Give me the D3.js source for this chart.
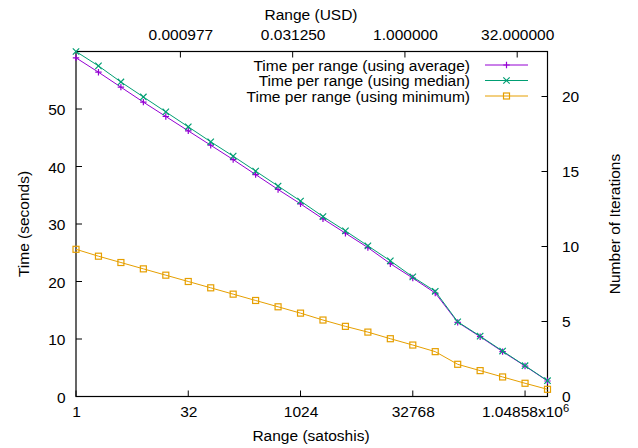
<!DOCTYPE html>
<html>
<head>
<meta charset="utf-8">
<script src="https://cdn.jsdelivr.net/npm/d3@7"></script>
<style>
  html, body { margin: 0; padding: 0; background: #fff; }
  svg text { font-family: "Liberation Sans", Arial, Helvetica, sans-serif; fill: #000; }
</style>
</head>
<body>
<svg id="chart" width="638" height="448"></svg>
<script>
// ---- data ----
const satoshis = [1, 2, 4, 8, 16, 32, 64, 128, 256, 512, 1024, 2048, 4096, 8192, 16384,
                  32768, 65536, 131072, 262144, 524288, 1048576, 2097152];
const timeAverage = [58.9, 56.4, 53.8, 51.2, 48.7, 46.2, 43.7, 41.2, 38.6, 36.0, 33.5,
                     30.9, 28.4, 25.9, 23.1, 20.6, 18.0, 12.9, 10.4, 7.8, 5.3, 2.7];
const timeMedian = [60.0, 57.5, 54.7, 52.1, 49.5, 46.9, 44.3, 41.8, 39.2, 36.6, 34.0,
                    31.3, 28.8, 26.2, 23.6, 20.8, 18.3, 13.0, 10.5, 7.9, 5.35, 2.75];
const timeMinimum = [25.6, 24.4, 23.3, 22.2, 21.1, 20.0, 18.9, 17.8, 16.7, 15.6, 14.5,
                     13.3, 12.2, 11.2, 10.05, 8.95, 7.8, 5.6, 4.5, 3.4, 2.3, 1.25];
const seriesNames = ["Time per range (using average)", "Time per range (using median)", "Time per range (using minimum)"];
const seriesColors = ["#9400d3", "#009e73", "#e69f00"];
const seriesMarkers = ["plus", "cross", "square"];
const xTickValues = [1, 32, 1024, 32768, 1048576];
const xTickLabels = ["1", "32", "1024", "32768", "1.04858x10|6"];
const x2TickValues = [Math.pow(2, -10), Math.pow(2, -5), 1, 32];
const x2TickLabels = ["0.000977", "0.031250", "1.000000", "32.000000"];
const yTickValues = [0, 10, 20, 30, 40, 50];
const y2TickValues = [0, 5, 10, 15, 20];
const satoshisPerUSD = Math.pow(2, 14.65);

// ---- layout ----
const L = 76, R = 547.5, T = 51.5, B = 396.5;
const FS = 15.5;
const svg = d3.select("#chart");

const x = d3.scaleLog().base(2).domain([1, 2097152]).range([L, R]);
const x2 = d3.scaleLog().base(2).domain([1 / satoshisPerUSD, 2097152 / satoshisPerUSD]).range([L, R]);
const y = d3.scaleLinear().domain([0, 60]).range([B, T]);
const y2 = d3.scaleLinear().domain([0, 23]).range([B, T]);

const tickLen = 6;
const axisColor = "#000";

// Bottom axis
const xAxis = d3.axisBottom(x).tickValues(xTickValues).tickSize(0).tickFormat((d, i) => xTickLabels[i]);
const gx = svg.append("g").attr("transform", `translate(0,${B})`).call(xAxis);
gx.select(".domain").remove();
gx.selectAll(".tick line").remove();
gx.selectAll(".tick text").each(function(d, i) {
  const t = d3.select(this);
  const lab = xTickLabels[i];
  t.text(null).attr("y", 20.5).attr("dy", null).style("font-size", FS + "px").attr("font-size", null).attr("font-family", null);
  if (lab.includes("|")) {
    const [base, sup] = lab.split("|");
    t.append("tspan").text(base);
    t.append("tspan").attr("dy", -5.5).style("font-size", (FS * 0.72) + "px").text(sup);
  } else {
    t.text(lab);
  }
});
svg.append("g").selectAll("line").data(xTickValues).join("line")
  .attr("x1", d => x(d)).attr("x2", d => x(d)).attr("y1", B).attr("y2", B - tickLen)
  .attr("stroke", axisColor).attr("stroke-width", 1);

// Top axis
const x2Axis = d3.axisTop(x2).tickValues(x2TickValues).tickSize(0).tickFormat((d, i) => x2TickLabels[i]);
const gx2 = svg.append("g").attr("transform", `translate(0,${T})`).call(x2Axis);
gx2.select(".domain").remove();
gx2.selectAll(".tick line").remove();
gx2.selectAll(".tick text").attr("y", -11.5).attr("dy", null).style("font-size", FS + "px").attr("font-size", null).attr("font-family", null);
svg.append("g").selectAll("line").data(x2TickValues).join("line")
  .attr("x1", d => x2(d)).attr("x2", d => x2(d)).attr("y1", T).attr("y2", T + tickLen)
  .attr("stroke", axisColor).attr("stroke-width", 1);

// Left axis
const yAxis = d3.axisLeft(y).tickValues(yTickValues).tickSize(0).tickFormat(d3.format("d"));
const gy = svg.append("g").attr("transform", `translate(${L},0)`).call(yAxis);
gy.select(".domain").remove();
gy.selectAll(".tick text").attr("x", -10.5).attr("dy", "0.36em").style("font-size", FS + "px").attr("font-size", null).attr("font-family", null);
svg.append("g").selectAll("line").data(yTickValues).join("line")
  .attr("x1", L).attr("x2", L + tickLen).attr("y1", d => y(d)).attr("y2", d => y(d))
  .attr("stroke", axisColor).attr("stroke-width", 1);

// Right axis
const y2Axis = d3.axisRight(y2).tickValues(y2TickValues).tickSize(0).tickFormat(d3.format("d"));
const gy2 = svg.append("g").attr("transform", `translate(${R},0)`).call(y2Axis);
gy2.select(".domain").remove();
gy2.selectAll(".tick text").attr("x", 14.5).attr("dy", "0.33em").style("font-size", FS + "px").attr("font-size", null).attr("font-family", null);
svg.append("g").selectAll("line").data(y2TickValues).join("line")
  .attr("x1", R).attr("x2", R - tickLen).attr("y1", d => y2(d)).attr("y2", d => y2(d))
  .attr("stroke", axisColor).attr("stroke-width", 1);

// Border
svg.append("rect").attr("x", L).attr("y", T).attr("width", R - L).attr("height", B - T)
  .attr("fill", "none").attr("stroke", axisColor).attr("stroke-width", 1.2);

// Axis titles
svg.append("text").attr("x", 311).attr("y", 441).attr("text-anchor", "middle")
  .style("font-size", FS + "px").text("Range (satoshis)");
svg.append("text").attr("x", 311).attr("y", 20).attr("text-anchor", "middle")
  .style("font-size", FS + "px").text("Range (USD)");
svg.append("text").attr("transform", `translate(28.5,${(T + B) / 2}) rotate(-90)`).attr("text-anchor", "middle")
  .style("font-size", FS + "px").text("Time (seconds)");
svg.append("text").attr("transform", `translate(620,${(T + B) / 2}) rotate(-90)`).attr("text-anchor", "middle")
  .style("font-size", FS + "px").text("Number of Iterations");

// Markers
function drawMarker(g, type, cx, cy, color) {
  const s = 3.2;
  if (type === "plus") {
    g.append("path").attr("d", `M${cx - s},${cy}H${cx + s}M${cx},${cy - s}V${cy + s}`)
      .attr("stroke", color).attr("stroke-width", 1.2).attr("fill", "none");
  } else if (type === "cross") {
    g.append("path").attr("d", `M${cx - s},${cy - s}L${cx + s},${cy + s}M${cx - s},${cy + s}L${cx + s},${cy - s}`)
      .attr("stroke", color).attr("stroke-width", 1.2).attr("fill", "none");
  } else {
    g.append("rect").attr("x", cx - 3).attr("y", cy - 3).attr("width", 6).attr("height", 6)
      .attr("stroke", color).attr("stroke-width", 1.2).attr("fill", "none");
  }
}

const seriesData = [timeAverage, timeMedian, timeMinimum];
const line = d3.line().x(d => x(d[0])).y(d => y(d[1]));
const plot = svg.append("g");
seriesData.forEach((vals, si) => {
  const pts = satoshis.map((s, i) => [s, vals[i]]);
  const g = plot.append("g");
  g.append("path").datum(pts).attr("d", line).attr("fill", "none")
    .attr("stroke", seriesColors[si]).attr("stroke-width", 1);
  pts.forEach(p => drawMarker(g, seriesMarkers[si], x(p[0]), y(p[1]), seriesColors[si]));
});

// Legend
const legendRowsY = [65, 80.5, 96];
seriesNames.forEach((name, i) => {
  const ly = legendRowsY[i];
  svg.append("text").attr("x", 470).attr("y", ly + 5.5).attr("text-anchor", "end")
    .style("font-size", FS + "px").text(name);
  svg.append("line").attr("x1", 485).attr("x2", 528).attr("y1", ly).attr("y2", ly)
    .attr("stroke", seriesColors[i]).attr("stroke-width", 1);
  drawMarker(svg.append("g"), seriesMarkers[i], 506.5, ly, seriesColors[i]);
});
</script>
</body>
</html>
